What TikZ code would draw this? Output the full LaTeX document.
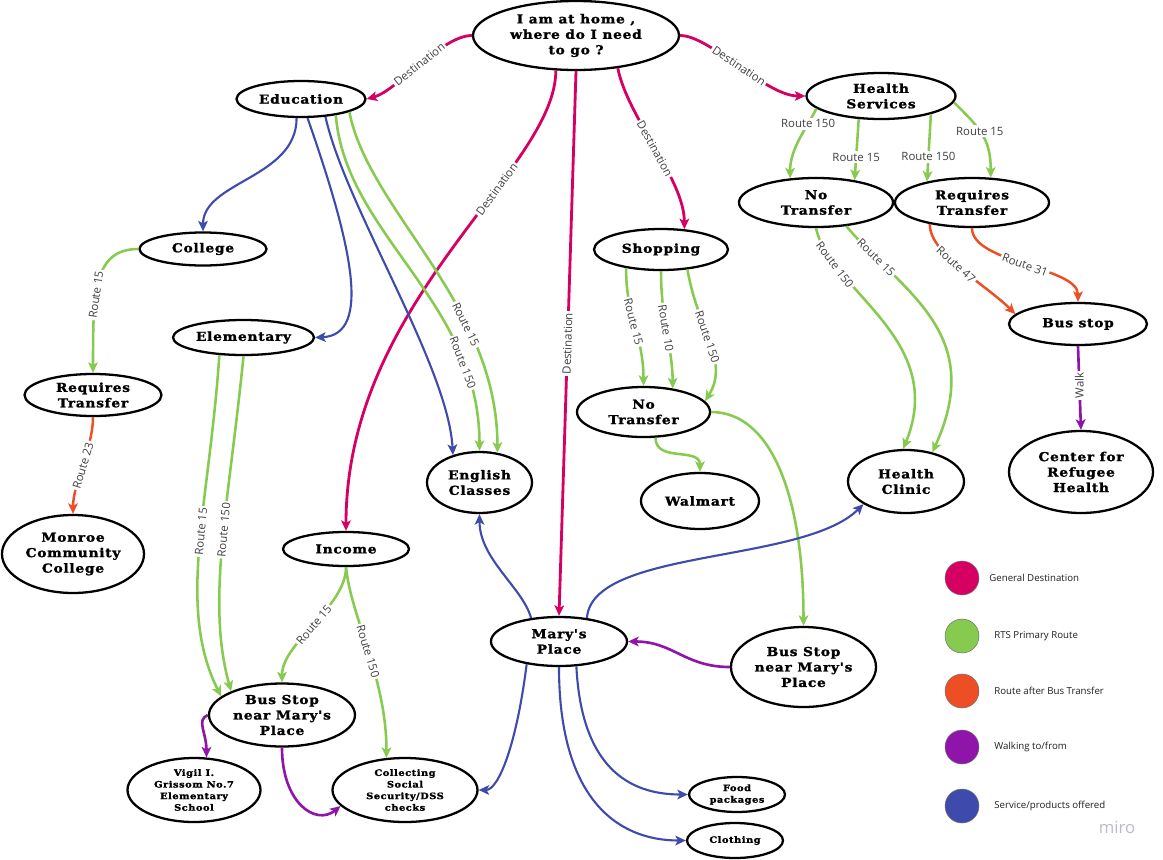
\documentclass[tikz,border=0pt]{standalone}
\usepackage{fontspec}
\usepackage{tikz}
\usetikzlibrary{shapes,arrows.meta}
\newfontfamily\placefont{DejaVu Serif}[FakeStretch=1.12,LetterSpace=6,BoldFeatures={FakeBold=1.5}]
\newfontfamily\labelfont{Open Sans}
\definecolor{destred}{RGB}{214,0,98}
\definecolor{routegreen}{RGB}{134,203,80}
\definecolor{transferorange}{RGB}{238,78,36}
\definecolor{walkpurple}{RGB}{142,20,170}
\definecolor{serviceblue}{RGB}{62,74,172}
\definecolor{mirogray}{RGB}{188,188,202}
\tikzset{place/.style={draw=black, ellipse, line width=1.3pt, inner sep=0pt, align=center, font=\placefont\bfseries\fontsize{7}{8.8}\selectfont}}
\tikzset{small place/.style={place, font=\placefont\bfseries\fontsize{5}{6.6}\selectfont}}
\tikzset{ellipse size/.style 2 args={minimum width=#1*0.02cm, minimum height=#2*0.02cm}}
\tikzset{destination/.style={draw=destred, line width=1.6pt, ->}}
\tikzset{primary route/.style={draw=routegreen, line width=1.45pt, ->}}
\tikzset{transfer route/.style={draw=transferorange, line width=1.4pt, ->}}
\tikzset{walking/.style={draw=walkpurple, line width=1.5pt, ->}}
\tikzset{service/.style={draw=serviceblue, line width=1.2pt, ->}}
\tikzset{flat label/.style={font=\labelfont\fontsize{6.5}{7}\selectfont, text=black!75, fill=white, inner sep=1pt}}
\tikzset{route label/.style={flat label, sloped}}
\tikzset{legend dot/.style={circle, draw=black!55, line width=0.3pt, minimum size=0.68cm, inner sep=0pt}}
\tikzset{legend text/.style={font=\labelfont\fontsize{5.5}{6.5}\selectfont, text=black!88, anchor=west, inner sep=0pt}}

\begin{document}
\begin{tikzpicture}[x=0.02cm, y=-0.02cm, >={Stealth[length=6pt,width=5.5pt,inset=1.5pt]}]
\path[fill=white, use as bounding box] (0,0) rectangle (1163,859);

\node[place, ellipse size={206}{69}] (home) at (576,35.5) {I am at home ,\\ where do I need\\ to go ?};
\node[place, ellipse size={129}{36}] (edu) at (301,99) {Education};
\node[place, ellipse size={149}{46}] (hs) at (881,96) {Health\\ Services};
\node[place, ellipse size={154}{49}] (hsnt) at (816,202.5) {No\\ Transfer};
\node[place, ellipse size={154}{49}] (hsrt) at (972,202.5) {Requires\\ Transfer};
\node[place, ellipse size={138}{42}] (bus) at (1078,324) {Bus stop};
\node[place, ellipse size={144}{82}] (crh) at (1081,472) {Center for\\ Refugee\\ Health};
\node[place, ellipse size={116}{63}] (clinic) at (906,481.5) {Health\\ Clinic};
\node[place, ellipse size={134}{41}] (shop) at (661,249.5) {Shopping};
\node[place, ellipse size={133}{50}] (snt) at (643.5,412) {No\\ Transfer};
\node[place, ellipse size={118}{56}] (walmart) at (700,501) {Walmart};
\node[place, ellipse size={105}{61}] (english) at (479.5,482.5) {English\\ Classes};
\node[place, ellipse size={127}{33}] (college) at (203,249) {College};
\node[place, ellipse size={141}{35}] (elem) at (243.5,337.5) {Elementary};
\node[place, ellipse size={137}{42}] (crt) at (93,395) {Requires\\ Transfer};
\node[place, ellipse size={142}{78}] (mcc) at (73,554) {Monroe\\ Community\\ College};
\node[place, ellipse size={126}{34}] (income) at (346,549) {Income};
\node[place, ellipse size={146}{63}] (busl) at (282,715) {Bus Stop\\ near Mary's\\ Place};
\node[small place, ellipse size={133}{64}] (vigil) at (194,790) {Vigil I.\\ Grissom No.7\\ Elementary\\ School};
\node[small place, ellipse size={145}{64}] (ssd) at (405,790) {Collecting\\ Social\\ Security/DSS\\ checks};
\node[place, ellipse size={136}{49}] (mary) at (559,641.5) {Mary's\\ Place};
\node[place, ellipse size={145}{80}] (busr) at (803.5,667) {Bus Stop\\ near Mary's\\ Place};
\node[small place, ellipse size={96}{35}] (food) at (737,794.5) {Food\\ packages};
\node[small place, ellipse size={96}{35}] (cloth) at (735,840.5) {Clothing};

\draw[destination] (home.west) .. controls +(-30,0) and +(30,-8) .. (edu.east) node[route label, pos=0.5] {Destination};
\draw[destination] (home.east) .. controls +(30,0) and +(-40,0) .. (hs.west) node[route label, pos=0.5] {Destination};
\draw[destination] (home.240) .. controls +(0,100) and +(0,-232) .. (income.north) node[route label, pos=0.35] {Destination};
\draw[destination] (home.south) -- (mary.north) node[route label, pos=0.5] {Destination};
\draw[destination] (home.322) .. controls +(10,50) and +(0,-50) .. (shop.41) node[route label, pos=0.5] {Destination};

\draw[primary route] (hs.191) .. controls +(-10,20) and +(0,-30) .. (hsnt.137) node[flat label, pos=0.25] {Route 150};
\draw[primary route] (hs.226) -- (hsnt.30) node[flat label, pos=0.62] {Route 15};
\draw[primary route] (hs.340) -- (hsrt.155) node[flat label, pos=0.63] {Route 150};
\draw[primary route] (hs.355) .. controls +(25,25) and +(0,-40) .. (hsrt.53) node[flat label, pos=0.45] {Route 15};
\draw[primary route] (hsnt.south) .. controls +(14,63) and +(45,-110) .. (clinic.95) node[route label, pos=0.2] {Route 150};
\draw[primary route] (hsnt.322) .. controls +(55,65) and +(55,-120) .. (clinic.48) node[route label, pos=0.17] {Route 15};
\draw[transfer route] (hsrt.207) .. controls +(0,30) and +(-30,-30) .. (bus.171) node[route label, pos=0.45] {Route 47};
\draw[transfer route] (hsrt.south) .. controls +(0,35) and +(0,-35) .. (bus.north) node[route label, pos=0.5] {Route 31};
\draw[walking] (bus.south) -- (crh.north) node[flat label, pos=0.47, rotate=90] {Walk};

\draw[primary route] (shop.208) .. controls +(0,50) and +(0,-50) .. (snt.north) node[route label, pos=0.45] {Route 15};
\draw[primary route] (shop.south) .. controls +(0,50) and +(0,-40) .. (snt.39) node[route label, pos=0.45] {Route 10};
\draw[primary route] (shop.323) .. controls +(10,60) and +(25,-40) .. (snt.10) node[route label, pos=0.45] {Route 150};
\draw[primary route] (snt.295) .. controls +(0,25) and +(0,-25) .. (walmart.north);
\draw[primary route] (snt.east) .. controls +(60,0) and +(0,-130) .. (busr.north);

\draw[service] (edu.257) .. controls +(0,60) and +(0,-50) .. (college.north);
\draw[service] (edu.289) .. controls +(43,123) and +(58,-2.5) .. (elem.east);
\draw[service] (edu.324) .. controls +(20,90) and +(-5,-90) .. (english.134);
\draw[primary route] (edu.335) .. controls +(10,120) and +(0,-150) .. (english.north) node[route label, pos=0.78] {Route 150};
\draw[primary route] (edu.345) .. controls +(20,100) and +(0,-150) .. (english.59) node[route label, pos=0.68] {Route 15};

\draw[primary route] (college.west) .. controls +(-45,0) and +(0,-80) .. (crt.north) node[route label, pos=0.6] {Route 15};
\draw[transfer route] (crt.south) .. controls +(0,30) and +(0,-30) .. (mcc.north) node[route label, pos=0.5] {Route 23};
\draw[primary route] (elem.216) .. controls +(-10,150) and +(-45,-90) .. (busl.163) node[route label, pos=0.45] {Route 15};
\draw[primary route] (elem.south) .. controls +(-15,150) and +(-25,-90) .. (busl.155) node[route label, pos=0.45] {Route 150};

\draw[primary route] (income.south) .. controls +(0,40) and +(0,-40) .. (busl.north) node[route label, pos=0.5] {Route 15};
\draw[primary route] (income.south) .. controls +(5,50) and +(0,-80) .. (ssd.120) node[route label, pos=0.5] {Route 150};
\draw[walking] (busl.west) .. controls +(-12,5) and +(0,-25) .. (vigil.69);
\draw[walking] (busl.south) .. controls +(0,55) and +(-25,20) .. (ssd.194);

\draw[walking] (busr.west) .. controls +(-45,0) and +(45,0) .. (mary.east);
\draw[service] (mary.140) .. controls +(-8,-30) and +(0,45) .. (english.south);
\draw[service] (mary.40) .. controls +(5,-70) and +(-60,60) .. (clinic.208);
\draw[service] (mary.215) .. controls +(-10,80) and +(20,0) .. (ssd.east);
\draw[service] (mary.305) .. controls +(5,100) and +(-60,0) .. (food.west);
\draw[service] (mary.south) .. controls +(0,130) and +(-70,0) .. (cloth.west);

\node[legend dot, fill=destred] (keydest) at (962,578) {};
\node[legend text] (keydesttext) at (989,578) {General Destination};
\node[legend dot, fill=routegreen] (keyroute) at (962,636) {};
\node[legend text] (keyroutetext) at (994,636) {RTS Primary Route};
\node[legend dot, fill=transferorange] (keytransfer) at (962,691) {};
\node[legend text] (keytransfertext) at (994,691) {Route after Bus Transfer};
\node[legend dot, fill=walkpurple] (keywalk) at (962,747) {};
\node[legend text] (keywalktext) at (994,747) {Walking to/from};
\node[legend dot, fill=serviceblue] (keyservice) at (962,806) {};
\node[legend text] (keyservicetext) at (994,806) {Service/products offered};
\node[font=\labelfont\fontsize{9.5}{10}\selectfont, text=mirogray] (miro) at (1117,827) {miro};
\end{tikzpicture}
\end{document}
